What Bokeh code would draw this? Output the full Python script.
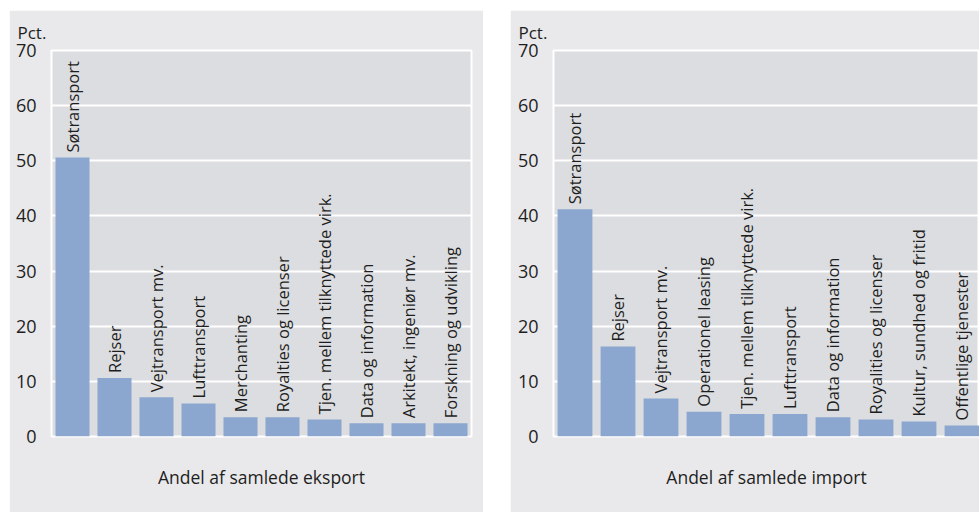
import math
from bokeh.plotting import figure
from bokeh.models import Range1d, FixedTicker, ColumnDataSource, LabelSet, Title
from bokeh.core.properties import value
from bokeh.layouts import row
from bokeh.embed import file_html
from bokeh.resources import INLINE

export_cats = ["Søtransport", "Rejser", "Vejtransport mv.", "Lufttransport", "Merchanting",
               "Royalties og licenser", "Tjen. mellem tilknyttede virk.", "Data og information",
               "Arkitekt, ingeniør mv.", "Forskning og udvikling"]
export_vals = [50.6, 10.6, 7.1, 6.0, 3.5, 3.5, 3.1, 2.4, 2.4, 2.4]

import_cats = ["Søtransport", "Rejser", "Vejtransport mv.", "Operationel leasing",
               "Tjen. mellem tilknyttede virk.", "Lufttransport", "Data og information",
               "Royalities og licenser", "Kultur, sundhed og fritid", "Offentlige tjenester"]
import_vals = [41.2, 16.3, 6.9, 4.5, 4.1, 4.1, 3.5, 3.1, 2.7, 2.0]

y_ticks = [0, 10, 20, 30, 40, 50, 60, 70]
unit_label = "Pct."
export_title = "Andel af samlede eksport"
import_title = "Andel af samlede import"

FONT = "Open Sans"
OUTER = "#e9e9eb"
INNER = "#dcdde0"
BAR = "#8ba7cf"
TXT = "#1e1e1e"


def make_panel(cats, vals, xlabel, width, min_left, min_right, x_end):
    n = len(cats)
    src = ColumnDataSource(dict(x=[i + 0.5 for i in range(n)], top=vals, name=cats))
    p = figure(width=width, height=502, output_backend="svg", toolbar_location=None,
               title=None, x_range=Range1d(0, x_end), y_range=Range1d(0, 70),
               min_border_left=min_left, min_border_right=min_right,
               min_border_top=40, min_border_bottom=76)
    p.background_fill_color = INNER
    p.border_fill_color = OUTER
    p.outline_line_color = "white"
    p.outline_line_width = 2
    p.vbar(x="x", top="top", bottom=0, width=0.81, source=src,
           fill_color=BAR, line_color=None)
    labels = LabelSet(x="x", y="top", text="name", source=src, angle=math.pi / 2,
                      text_align="left", text_baseline="middle", y_offset=5,
                      text_font=value(FONT), text_font_size=value("16.5px"), text_color=TXT)
    p.add_layout(labels)

    p.xgrid.grid_line_color = None
    p.ygrid.grid_line_color = "white"
    p.ygrid.grid_line_width = 2
    p.ygrid.ticker = FixedTicker(ticks=y_ticks)

    p.yaxis.ticker = FixedTicker(ticks=y_ticks)
    p.yaxis.axis_line_color = None
    p.yaxis.major_tick_line_color = None
    p.yaxis.minor_tick_line_color = None
    p.yaxis.major_tick_out = 0
    p.yaxis.major_tick_in = 0
    p.yaxis.minor_tick_out = 0
    p.yaxis.major_label_standoff = 15
    p.yaxis.major_label_text_font = FONT
    p.yaxis.major_label_text_font_size = "18px"
    p.yaxis.major_label_text_color = TXT

    p.xaxis.ticker = FixedTicker(ticks=[])
    p.xaxis.axis_line_color = None
    p.xaxis.major_tick_line_color = None
    p.xaxis.minor_tick_line_color = None
    p.xaxis.major_tick_out = 0
    p.xaxis.major_tick_in = 0
    p.xaxis.axis_label = xlabel
    p.xaxis.axis_label_text_font = FONT
    p.xaxis.axis_label_text_font_size = "17.5px"
    p.xaxis.axis_label_text_font_style = "normal"
    p.xaxis.axis_label_text_color = TXT
    p.xaxis.axis_label_standoff = 28

    t = Title(text=unit_label, align="left", vertical_align="top", offset=-(min_left - 8),
              text_font=FONT, text_font_size="17px", text_font_style="normal",
              text_color=TXT, standoff=10)
    p.add_layout(t, "above")
    return p


p1 = make_panel(export_cats, export_vals, export_title, 474, 42, 12, 10)
p2 = make_panel(import_cats, import_vals, import_title, 469, 43, 0, (469 - 43) / 43)

layout = row(p1, p2, spacing=27, margin=(10, 0, 0, 9))
open("out.html", "w").write(file_html(layout, INLINE))
